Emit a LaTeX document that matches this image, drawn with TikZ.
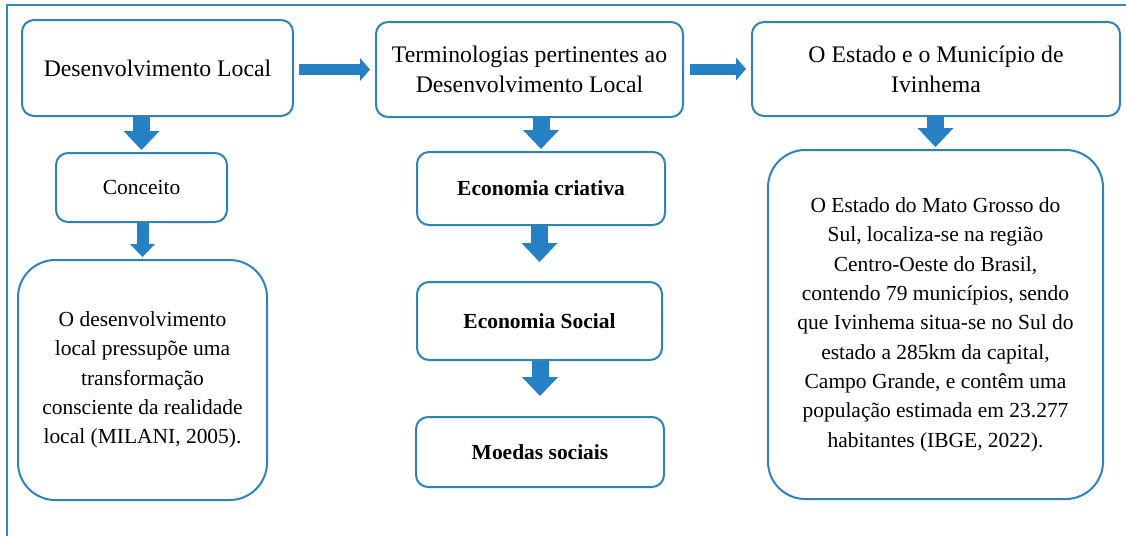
\documentclass[tikz,border=0pt]{standalone}
\usepackage{fontspec}
\setmainfont{Liberation Serif}
\usetikzlibrary{arrows.meta}

\definecolor{framecol}{RGB}{52,138,182}
\definecolor{boxcol}{RGB}{46,132,180}
\definecolor{arrowcol}{RGB}{37,128,196}

\tikzset{every picture/.style={line width=0.75pt}}
\tikzset{
	box/.style={draw=boxcol, line width=1.5pt, rounded corners=9pt, fill=white, align=center, inner sep=0.75pt},
	bigbox/.style={box, rounded corners=28pt},
	headtext/.style={font=\fontsize{17.8}{22.5}\selectfont},
	bodytext/.style={font=\fontsize{16.1}{22}\selectfont},
	boldtext/.style={font=\fontsize{16.1}{22}\selectfont\bfseries},
	sidearrow/.style={draw=arrowcol, line width=8.25pt, -{Triangle[length=7.5pt,width=17.25pt,line width=0pt]}},
	downarrow/.style={draw=arrowcol, line width=12.75pt, -{Triangle[length=14.25pt,width=27pt,line width=0pt]}},
	smallarrow/.style={draw=arrowcol, line width=9pt, -{Triangle[length=9.75pt,width=18.75pt,line width=0pt]}}
}

\begin{document}
\begin{tikzpicture}[x=0.75pt,y=0.75pt,yscale=-1]
			\useasboundingbox (0,0) rectangle (1126,536);
			
			%Straight Lines 
			\draw [framecol, line width=1.5pt] (1126,5) -- (7,5) -- (7,536) ;
			
			%Shape: Rounded Rect 
			\draw (157.5,68) node [box, headtext, minimum width=203.25pt, minimum height=72pt] (dl) {Desenvolvimento Local};
			%Shape: Rounded Rect 
			\draw (529.5,69.5) node [box, headtext, minimum width=230.25pt, minimum height=71.25pt] (term) {Terminologias pertinentes ao\\Desenvolvimento Local};
			%Shape: Rounded Rect 
			\draw (936,69) node [box, headtext, minimum width=276pt, minimum height=70.5pt] (est) {O Estado e o Município de\\Ivinhema};
			%Shape: Rounded Rect 
			\draw (141.5,187.5) node [box, bodytext, minimum width=128.25pt, minimum height=51.75pt] (conc) {Conceito};
			%Shape: Rounded Rect 
			\draw (142.5,380) node [bigbox, bodytext, minimum width=186.75pt, minimum height=180pt] (desc) {O desenvolvimento\\local pressupõe uma\\transformação\\consciente da realidade\\local (MILANI, 2005).};
			%Shape: Rounded Rect 
			\draw (541,188.5) node [box, boldtext, minimum width=186pt, minimum height=54.75pt] (ec) {Economia criativa};
			%Shape: Rounded Rect 
			\draw (539.5,321) node [box, boldtext, minimum width=183.75pt, minimum height=58.5pt] (es) {Economia Social};
			%Shape: Rounded Rect 
			\draw (540,452) node [box, boldtext, minimum width=186pt, minimum height=52.5pt] (moe) {Moedas sociais};
			%Shape: Rounded Rect 
			\draw (935.5,324.5) node [bigbox, bodytext, minimum width=251.25pt, minimum height=261.75pt] (mat) {O Estado do Mato Grosso do\\Sul, localiza-se na região\\Centro-Oeste do Brasil,\\contendo 79 municípios, sendo\\que Ivinhema situa-se no Sul do\\estado a 285km da capital,\\Campo Grande, e contêm uma\\população estimada em 23.277\\habitantes (IBGE, 2022).};
			
			%Right Arrows 
			\draw [sidearrow, shorten <=3.75pt, shorten >=3.75pt] (term.west -| dl.east) -- (term.west) ;
			\draw [sidearrow, shorten <=4.5pt, shorten >=3.75pt] (est.west -| term.east) -- (est.west) ;
			
			%Down Arrows 
			\draw [downarrow, shorten >=1.5pt] (dl.south -| conc.north) -- (conc.north) ;
			\draw [smallarrow, shorten >=1.5pt] (conc.south -| desc.north) -- (desc.north) ;
			\draw [downarrow, shorten >=1.5pt] (term.south -| ec.north) -- (ec.north) ;
			\draw [downarrow, shorten >=14.25pt] (ec.south -| es.north) -- (es.north) ;
			\draw [downarrow, shorten >=15pt] (es.south -| moe.north) -- (moe.north) ;
			\draw [downarrow, shorten >=1.5pt] (est.south -| mat.north) -- (mat.north) ;
			
		\end{tikzpicture}
\end{document}
